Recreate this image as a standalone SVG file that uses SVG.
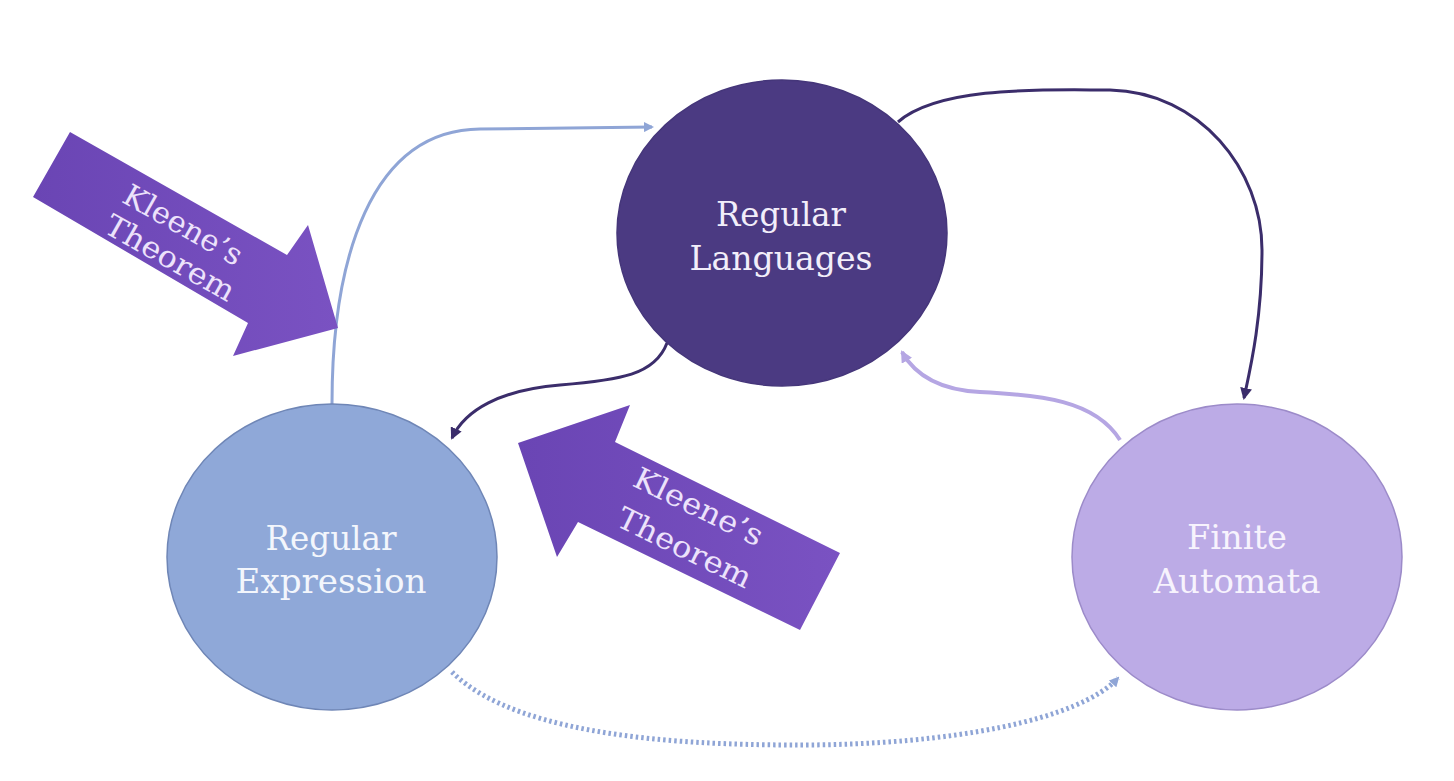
<svg xmlns="http://www.w3.org/2000/svg" width="1454" height="781" viewBox="0 0 1454 781">
<style>
.lbl{font-family:"DejaVu Serif","Liberation Serif",serif;font-size:34px;text-anchor:middle}
.kl{font-family:"DejaVu Serif","Liberation Serif",serif;font-size:30px;text-anchor:middle;fill:#ece2fb}
.c{fill:none}
</style>
<defs>
<linearGradient id="g" x1="0" y1="0" x2="1" y2="0">
<stop offset="0" stop-color="#6a45b4"/>
<stop offset="1" stop-color="#7a52c2"/>
</linearGradient>
<marker id="mb" markerWidth="10" markerHeight="10" refX="8" refY="5" orient="auto" markerUnits="userSpaceOnUse"><path d="M0,0 L10,5 L0,10 z" fill="#8fa5d6"/></marker>
<marker id="md" markerWidth="12" markerHeight="12" refX="10" refY="6" orient="auto" markerUnits="userSpaceOnUse"><path d="M0,0 L12,6 L0,12 z" fill="#3b2d6b"/></marker>
<marker id="mp" markerWidth="12" markerHeight="12" refX="10" refY="6" orient="auto" markerUnits="userSpaceOnUse"><path d="M0,0 L12,6 L0,12 z" fill="#b5a6e3"/></marker>
</defs>
<rect width="1454" height="781" fill="#ffffff"/>
<g id="connectors">
<path class="c" d="M332,404 C332,260 370,130 480,129 L652,127" stroke="#8fa5d6" stroke-width="3" marker-end="url(#mb)"/>
<path class="c" d="M898,122 C940,85 1050,90 1110,90 C1200,92 1262,170 1262,250 C1262,320 1250,370 1244,398" stroke="#3b2d6b" stroke-width="3" marker-end="url(#md)"/>
<path class="c" d="M667,343 C655,375 620,380 560,385 C500,390 465,410 452,438" stroke="#3b2d6b" stroke-width="3" marker-end="url(#md)"/>
<path class="c" d="M1120,440 C1095,400 1040,395 980,392 C940,390 915,375 902,352" stroke="#b5a6e3" stroke-width="4" marker-end="url(#mp)"/>
<path class="c" d="M452,672 C520,740 700,745 800,745 C950,745 1080,720 1118,678" stroke="#8fa5d6" stroke-width="5" stroke-dasharray="2.5 3" marker-end="url(#mb)"/>
</g>
<g id="regular-languages">
<ellipse cx="782" cy="233" rx="165" ry="153" fill="#4b3a82" stroke="#45367a" stroke-width="1.5"/>
<text class="lbl" x="781" y="226" fill="#f2eefa" textLength="130" lengthAdjust="spacingAndGlyphs">Regular</text>
<text class="lbl" x="781" y="270" fill="#f2eefa" textLength="183" lengthAdjust="spacingAndGlyphs">Languages</text>
</g>
<g id="regular-expression">
<ellipse cx="332" cy="557" rx="165" ry="153" fill="#8fa8d8" stroke="#6f86b6" stroke-width="1.5"/>
<text class="lbl" x="331" y="550" fill="#f3f6fc" textLength="131" lengthAdjust="spacingAndGlyphs">Regular</text>
<text class="lbl" x="331" y="593" fill="#f3f6fc" textLength="191" lengthAdjust="spacingAndGlyphs">Expression</text>
</g>
<g id="finite-automata">
<ellipse cx="1237" cy="557" rx="165" ry="153" fill="#bcabe6" stroke="#9c8bc9" stroke-width="1.5"/>
<text class="lbl" x="1237" y="549" fill="#f7f3fd" textLength="100" lengthAdjust="spacingAndGlyphs">Finite</text>
<text class="lbl" x="1237" y="593" fill="#f7f3fd" textLength="167" lengthAdjust="spacingAndGlyphs">Automata</text>
</g>
<g id="kleene-arrow-1">
<polygon points="70,132 287,255 308,225 338,328 233,356 248,323 33,197" fill="url(#g)"/>
<text class="kl" transform="translate(178,234) rotate(29.5)" textLength="132" lengthAdjust="spacingAndGlyphs">Kleene’s</text>
<text class="kl" transform="translate(165,267) rotate(29.5)" textLength="144" lengthAdjust="spacingAndGlyphs">Theorem</text>
</g>
<g id="kleene-arrow-2">
<polygon points="518,443 630,405 615,442 840,553 800,630 578,522 557,557" fill="url(#g)"/>
<text class="kl" transform="translate(694,516) rotate(26)" textLength="140" lengthAdjust="spacingAndGlyphs">Kleene’s</text>
<text class="kl" transform="translate(680,557) rotate(26)" textLength="146" lengthAdjust="spacingAndGlyphs">Theorem</text>
</g>
</svg>
